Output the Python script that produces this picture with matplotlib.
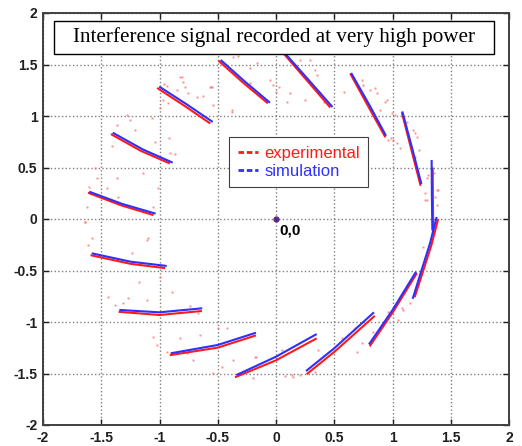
import matplotlib
matplotlib.use("Agg")
import matplotlib.pyplot as plt
from matplotlib.patches import Rectangle
from matplotlib.lines import Line2D

plt.rcParams['font.family'] = ['Liberation Sans', 'DejaVu Sans']

# --- data ---
title = "Interference signal recorded at very high power"

# simulation arcs (blue), one list per arc
sim_x = [
    [-1.603, -1.319, -1.033],
    [-1.402, -1.144, -0.887],
    [-1.002, -0.773, -0.543],
    [-0.475, -0.263, -0.052],
    [0.060, 0.280, 0.485],
    [0.645, 0.800, 0.944],
    [1.084, 1.168, 1.248],
    [1.336, 1.338, 1.342],
    [1.379, 1.322, 1.250, 1.173],
    [1.202, 1.000, 0.798],
    [0.841, 0.500, 0.258],
    [0.349, 0.000, -0.340],
    [-0.172, -0.500, -0.904],
    [-0.633, -1.000, -1.345],
    [-0.938, -1.250, -1.582],
]
sim_y = [
    [0.265, 0.146, 0.052],
    [0.838, 0.676, 0.547],
    [1.285, 1.118, 0.942],
    [1.544, 1.330, 1.129],
    [1.630, 1.350, 1.087],
    [1.418, 1.110, 0.808],
    [1.045, 0.690, 0.340],
    [0.573, 0.230, -0.110],
    [0.020, -0.236, -0.495, -0.775],
    [-0.512, -0.884, -1.217],
    [-0.906, -1.255, -1.476],
    [-1.117, -1.337, -1.515],
    [-1.104, -1.223, -1.304],
    [-0.867, -0.906, -0.883],
    [-0.456, -0.414, -0.333],
]

# experimental arcs (red)
exp_x = [
    [-1.614, -1.333, -1.052],
    [-1.417, -1.161, -0.911],
    [-1.020, -0.791, -0.564],
    [-0.494, -0.281, -0.070],
    [0.050, 0.264, 0.466],
    [0.637, 0.790, 0.939],
    [1.080, 1.161, 1.241],
    [1.345, 1.347, 1.350],
    [1.392, 1.335, 1.263, 1.190],
    [1.209, 1.007, 0.804],
    [0.848, 0.508, 0.263],
    [0.349, 0.000, -0.352],
    [-0.172, -0.500, -0.912],
    [-0.636, -1.000, -1.351],
    [-0.952, -1.250, -1.592],
]
exp_y = [
    [0.255, 0.134, 0.038],
    [0.824, 0.662, 0.539],
    [1.272, 1.103, 0.927],
    [1.537, 1.322, 1.123],
    [1.627, 1.347, 1.082],
    [1.413, 1.097, 0.793],
    [1.035, 0.677, 0.323],
    [0.500, 0.170, -0.150],
    [0.000, -0.250, -0.505, -0.760],
    [-0.526, -0.898, -1.236],
    [-0.940, -1.283, -1.507],
    [-1.159, -1.372, -1.537],
    [-1.130, -1.249, -1.322],
    [-0.893, -0.932, -0.901],
    [-0.477, -0.435, -0.351],
]

# stray experimental samples (light red dots)
dots_x = [-1.603, -1.539, -1.453, -1.367, -1.354, -1.139, -1.053, -1.010, -1.625, -1.640,
          -1.554, -1.282, -1.210, -1.367, -1.039, -0.916, -0.910, -0.867, -1.067, -1.253,
          -1.410, -0.961, -0.938, -0.810, -0.781, -0.753, -0.624, -0.567, -0.538, -0.996,
          -0.924, -0.380, -0.824, -0.801, -0.561, -0.852, -0.681, -0.967, -0.367, -0.324,
          -0.223, -0.166, -0.052, -0.029, 0.029, 0.000, -0.380, -0.552, -0.223, 0.206,
          0.335, 0.349, 0.120, 0.097, 0.249, 0.378, 0.412, 0.292, 0.584, 0.749,
          0.807, 0.864, 0.893, 0.993, 0.964, 1.036, 0.736, 0.850, 0.950, 1.007,
          0.936, 1.021, 0.985, 1.064, 1.122, 1.179, 1.193, 1.208, 1.230, 1.193,
          1.307, 1.293, 1.356, 1.393, 1.379, 1.279, 1.365, 1.293, 1.379, 1.279,
          -1.640, -1.611, -1.582, -1.110, -1.096, -1.239, -0.996, -0.976, -1.173, -0.895,
          -1.439, -1.382, -1.311, -1.268, -1.110, -0.738, -0.667, -1.053, -1.024, -0.938,
          -0.824, -0.652, -0.495, -0.423, -0.767, -0.710, -0.466, -0.366, -0.538, -0.180,
          -0.195, 0.049, 0.135, 0.149, 0.364, 0.335, 0.564, 0.693, 0.835, 0.964,
          0.950, 1.079, 1.150, 1.265, -0.172, 0.678, 0.621, 0.736, 1.050, 1.093,
          0.077, 0.206]
dots_y = [0.314, 0.395, 0.298, 0.395, 0.217, 0.450, 0.119, 0.298, 0.119, -0.030,
          0.492, 1.010, 0.864, 0.913, 0.750, 0.783, 0.638, 0.631, 0.978, 0.961,
          0.709, 1.311, 1.291, 1.382, 1.285, 1.220, 1.194, 1.285, 1.107, 1.075,
          1.123, 1.042, 1.376, 1.327, 1.279, 1.252, 1.187, 1.155, 1.576, 1.583,
          1.463, 1.512, 1.350, 1.301, 1.285, 1.236, 1.058, 1.285, 1.317, 1.544,
          1.447, 1.398, 1.220, 1.139, 1.155, 1.220, 1.139, 1.544, 1.236, 1.301,
          1.252, 1.220, 1.058, 1.026, 0.767, 0.735, 1.350, 1.269, 1.155, 0.767,
          1.139, 1.010, 0.783, 0.686, 0.945, 0.864, 0.832, 0.799, 0.670, 0.605,
          0.427, 0.395, 0.444, 0.282, 0.136, 0.184, 0.217, 0.184, 0.282, 0.250,
          -0.026, -0.252, -0.188, -0.204, -0.188, -0.333, -0.560, -0.447, -0.609, -0.706,
          -0.754, -0.835, -0.819, -0.770, -0.786, -0.845, -0.916, -1.143, -1.223, -1.288,
          -1.159, -1.126, -1.061, -1.061, -1.304, -1.369, -1.434, -1.369, -1.498, -1.337,
          -1.547, -1.272, -1.515, -1.531, -1.272, -1.482, -1.159, -1.288, -1.094, -0.900,
          -0.948, -0.867, -0.819, -0.269, -1.337, -1.055, -1.126, -1.207, -0.981, -0.884,
          -1.524, -1.515]

ticks = [-2, -1.5, -1, -0.5, 0, 0.5, 1, 1.5, 2]
tick_labels = ['-2', '-1.5', '-1', '-0.5', '0', '0.5', '1', '1.5', '2']

red = '#ff1a1a'
blue = '#2f2fff'

fig = plt.figure(figsize=(5.22, 4.46), dpi=100)
ax = fig.add_axes([43 / 522, 21 / 446, 466 / 522, 412 / 446])

ax.plot(dots_x, dots_y, 's', color='#ff7070', ms=1.4, mew=0, alpha=0.8, zorder=2)

for xs, ys in zip(exp_x, exp_y):
    ax.plot(xs, ys, color=red, lw=1.5, solid_capstyle='butt', solid_joinstyle='round', zorder=3)
for xs, ys in zip(sim_x, sim_y):
    ax.plot(xs, ys, color=blue, lw=1.5, solid_capstyle='butt', solid_joinstyle='round', zorder=3.1)

# origin marker
ax.plot([0], [0], 'o', color='#5a2a80', ms=3.5, zorder=4)
ax.text(0.03, -0.11, '0,0', fontsize=11, fontweight='bold', va='center', ha='left', zorder=4)

# boxed title inside the axes
ax.add_patch(Rectangle((-1.903, 1.602), 3.777, 0.323, facecolor='white',
                       edgecolor='black', lw=1.0, zorder=5))
ax.text(-0.014, 1.764, title, family='Liberation Serif', fontsize=15.2,
        ha='center', va='center', zorder=6)

ax.set_xlim(-2, 2)
ax.set_ylim(-2, 2)
ax.set_xticks(ticks)
ax.set_xticklabels(tick_labels, fontweight='bold')
ax.set_yticks(ticks)
ax.set_yticklabels(tick_labels, fontweight='bold')
ax.tick_params(direction='in', top=True, right=True, length=4, width=1.0,
               labelsize=10, pad=4, colors='#202020')
ax.grid(True, linestyle=':', color='#808080', lw=1.0)
ax.set_axisbelow(True)
for sp in ax.spines.values():
    sp.set_color('#404040')
    sp.set_linewidth(1.4)

handles = [Line2D([], [], color=red, lw=2, ls=(0, (2, 1))),
           Line2D([], [], color=blue, lw=2, ls=(0, (2, 1)))]
leg = ax.legend(handles, ['experimental', 'simulation'], loc='upper left',
                bbox_to_anchor=(0.400, 0.698), borderaxespad=0, fancybox=False,
                framealpha=1, edgecolor='#404040', fontsize=12, handlelength=1.2,
                handletextpad=0.4, labelspacing=0.2, borderpad=0.5)
leg.get_frame().set_linewidth(0.8)
for t, c in zip(leg.get_texts(), [red, blue]):
    t.set_color(c)
leg.set_zorder(7)

fig.savefig('out.png', dpi=100)
